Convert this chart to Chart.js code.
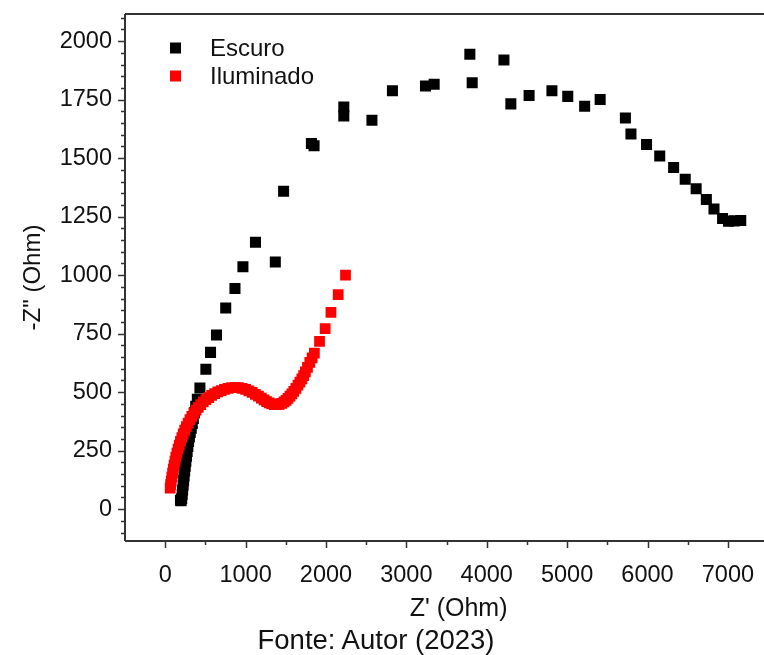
<!DOCTYPE html>
<html><head><meta charset="utf-8">
<script src="https://cdn.jsdelivr.net/npm/chart.js@4.4.1/dist/chart.umd.min.js"></script>
<style>
html,body{margin:0;padding:0;background:#fff;overflow:hidden;width:764px;height:655px;}
#wrap{position:relative;width:800px;height:655px;}
#caption{position:absolute;left:0;width:752px;top:625px;text-align:center;font-family:"Liberation Sans",Arial,sans-serif;font-size:27.5px;color:#111;line-height:30px;}
</style></head><body>
<div id="wrap"><canvas id="c" width="800" height="655" style="width:800px;height:655px"></canvas><div id="caption">Fonte: Autor (2023)</div></div>
<script>
const seriesNames = ["Escuro", "Iluminado"];
const escuroZr = [190,198,205,211,217,223,229,235,242,249,257,265,273,282,291,301,312,324,337,350,364,380,400,432,506,564,638,753,868,967,1123,1370,1473,1819,1852,2222,2222,2572,2827,3238,3346,3790,3819,4214,4300,4527,4811,5008,5218,5411,5725,5794,5988,6152,6325,6469,6605,6732,6827,6934,7008,7078,7160];
const escuroZi = [38,36,45,62,82,102,122,142,163,184,205,226,247,268,289,309,328,346,366,388,412,440,470,518,598,670,744,860,943,1036,1141,1056,1359,1563,1553,1680,1719,1662,1788,1808,1816,1944,1822,1919,1732,1768,1788,1764,1722,1751,1672,1603,1558,1509,1460,1410,1369,1323,1283,1242,1230,1232,1234];
const iluminadoZr = [62,68,75,83,92,101,111,122,133,146,160,175,190,207,224,243,263,285,308,332,357,384,412,442,474,507,542,578,616,655,696,738,782,826,870,914,958,1000,1042,1082,1122,1160,1196,1230,1262,1294,1326,1358,1390,1420,1450,1478,1504,1528,1552,1576,1600,1626,1652,1676,1700,1722,1744,1770,1799,1828,1856,1920,1990,2062,2152,2243];
const iluminadoZi = [90,105,120,137,154,171,188,205,222,240,257,274,290,306,322,338,353,368,383,397,410,423,435,447,458,468,477,486,494,501,507,512,516,519,520,519,516,512,506,499,491,483,475,467,460,454,450,447,447,448,452,458,465,474,483,493,503,516,530,543,557,571,587,606,627,647,667,717,772,841,917,1000];
const xTickValues = [0,1000,2000,3000,4000,5000,6000,7000];
const yTickValues = [0,250,500,750,1000,1250,1500,1750,2000];
const xRange = [-500, 7800];
const yRange = [-136, 2116];

const FONT = '"Liberation Sans", Arial, sans-serif';
const AXIS = '#333';

function pts(xs, ys){ return xs.map((x,i)=>({x:x, y:ys[i]})); }

const framePlugin = {
  id:'frame',
  beforeDatasetsDraw(chart){
    const {ctx, chartArea:a, scales:{x, y}} = chart;
    ctx.save();
    ctx.strokeStyle = AXIS;
    ctx.lineWidth = 2;
    ctx.beginPath();
    ctx.moveTo(a.left, a.top); ctx.lineTo(a.right, a.top);
    ctx.moveTo(a.left, a.top); ctx.lineTo(a.left, a.bottom);
    ctx.moveTo(a.left, a.bottom); ctx.lineTo(a.right, a.bottom);
    ctx.moveTo(a.right, a.top); ctx.lineTo(a.right, a.bottom);
    ctx.stroke();
    ctx.lineWidth = 1.5;
    ctx.beginPath();
    for (let v = -500; v <= xRange[1]; v += 500) {
      const px = Math.round(x.getPixelForValue(v)) + 0.5;
      if (px <= a.left + 1 || px >= a.right - 1) continue;
      const len = (v % 1000 === 0) ? 7 : 4;
      ctx.moveTo(px, a.bottom); ctx.lineTo(px, a.bottom + len);
    }
    for (let v = -100; v <= yRange[1]; v += 50) {
      const py = Math.round(y.getPixelForValue(v)) + 0.5;
      if (py <= a.top + 1 || py >= a.bottom - 1) continue;
      const len = (v % 250 === 0) ? 7 : 4;
      ctx.moveTo(a.left, py); ctx.lineTo(a.left - len, py);
    }
    ctx.stroke();
    ctx.restore();
  },
  afterDraw(chart){
    const {ctx} = chart;
    const ds = chart.data.datasets;
    ctx.save();
    ctx.font = '24px ' + FONT;
    ctx.textBaseline = 'middle';
    ctx.textAlign = 'left';
    const rows = [48, 76];
    ds.forEach((d, i) => {
      ctx.fillStyle = d.backgroundColor;
      ctx.fillRect(170, rows[i] - 5.5, 11, 11);
      ctx.fillStyle = '#111';
      ctx.fillText(d.label, 210, rows[i] + 1);
    });
    ctx.restore();
  }
};

new Chart(document.getElementById('c'), {
  type: 'scatter',
  data: {
    datasets: [
      {label: seriesNames[0], data: pts(escuroZr, escuroZi), backgroundColor:'#000', borderWidth:0, pointStyle:'rect', pointRadius:7.8, order:1},
      {label: seriesNames[1], data: pts(iluminadoZr, iluminadoZi), backgroundColor:'#ff0000', borderWidth:0, pointStyle:'rect', pointRadius:7.6, order:0}
    ]
  },
  options: {
    responsive:false, animation:false, devicePixelRatio:1,
    layout:{padding:{top:14, right:3, bottom:30, left:0}},
    plugins:{legend:{display:false}, tooltip:{enabled:false}},
    scales:{
      x:{type:'linear', min:xRange[0], max:xRange[1], position:'bottom',
        afterBuildTicks(s){ s.ticks = xTickValues.map(v=>({value:v})); },
        ticks:{font:{family:FONT, size:23.5}, color:'#111', padding:20, maxRotation:0, autoSkip:false, callback:(v)=>String(v)},
        grid:{display:false, drawTicks:false}, border:{display:false},
        title:{display:true, text:"Z' (Ohm)", font:{family:FONT, size:25}, color:'#111', padding:{top:0, bottom:1}},
        afterFit(s){ s.height = 84; s.paddingLeft = 0; s.paddingRight = 0; }
      },
      y:{type:'linear', min:yRange[0], max:yRange[1],
        afterBuildTicks(s){ s.ticks = yTickValues.map(v=>({value:v})); },
        ticks:{font:{family:FONT, size:23.5}, color:'#111', padding:13, autoSkip:false, callback:(v)=>String(v)},
        grid:{display:false, drawTicks:false}, border:{display:false},
        title:{display:true, text:'-Z" (Ohm)', font:{family:FONT, size:24}, color:'#111', padding:{top:19, bottom:0}},
        afterFit(s){ s.width = 125; s.paddingTop = 0; s.paddingBottom = 0; }
      }
    }
  },
  plugins:[framePlugin]
});
</script>
</body></html>
